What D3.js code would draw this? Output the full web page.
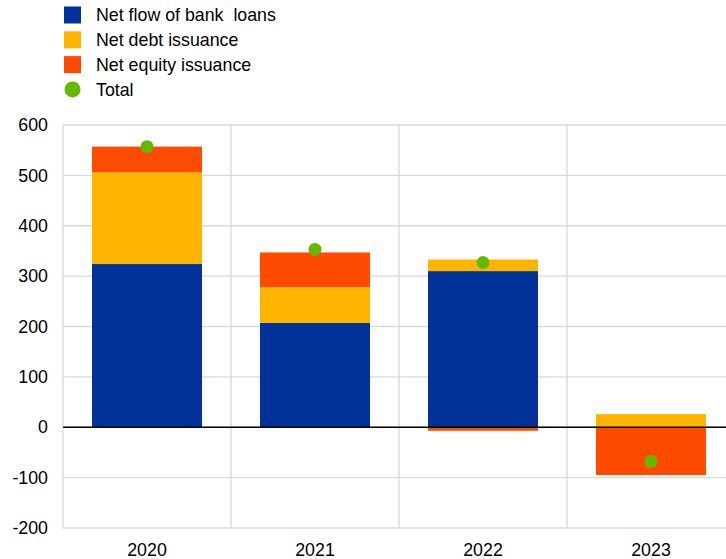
<!DOCTYPE html>
<html><head><meta charset="utf-8">
<script src="https://cdn.jsdelivr.net/npm/d3@7"></script>
<style>body{margin:0;background:#fff}svg{display:block;font-family:"Liberation Sans",Arial,sans-serif}</style>
</head><body><svg id="c" width="726" height="559"></svg>
<script>
const years = ["2020","2021","2022","2023"];
const bankLoans = [324, 207, 310, 0];
const debtIssuance = [182, 71, 23, 26];
const equityIssuance = [51, 69, -7, -95];
const totals = [557, 353, 327, -68];
const yTicks = [-200,-100,0,100,200,300,400,500,600];
const seriesNames = ["Net flow of bank  loans","Net debt issuance","Net equity issuance"];
const colors = ["#003299","#ffb400","#ff4b00"];
const dotColor = "#65b800";

(function(){
const svg = d3.select("#c");
const pLeft = 63, pRight = 735, pTop = 125, pBottom = 528;
const FS = 17.8;
const x = d3.scaleBand().domain(years).range([pLeft, pRight]).paddingInner(0.345).paddingOuter(0.1725);
const y = d3.scaleLinear().domain([-200, 600]).range([pBottom, pTop]);

const rows = years.map((yr,i)=>({year:yr, a:bankLoans[i], b:debtIssuance[i], c:equityIssuance[i]}));
const stack = d3.stack().keys(["a","b","c"]).offset(d3.stackOffsetDiverging)(rows);

// grid
const g = svg.append("g");
g.selectAll("line.h").data(yTicks).join("line")
  .attr("x1", pLeft).attr("x2", 726).attr("y1", d=>y(d)).attr("y2", d=>y(d))
  .attr("stroke", "#d9d9d9").attr("stroke-width", 1.3);
const bounds = [pLeft].concat(years.slice(1).map(d=>x(d) - x.step()*x.paddingInner()/2));
g.selectAll("line.v").data(bounds).join("line")
  .attr("x1", d=>d).attr("x2", d=>d).attr("y1", pTop).attr("y2", pBottom)
  .attr("stroke", "#d9d9d9").attr("stroke-width", 1.3);

// bars
stack.forEach((s, k) => {
  svg.append("g").selectAll("rect").data(s).join("rect")
    .attr("x", d=>x(d.data.year)).attr("width", x.bandwidth())
    .attr("y", d=>y(Math.max(d[0],d[1]))).attr("height", d=>Math.abs(y(d[0])-y(d[1])))
    .attr("fill", colors[k]);
});

// zero line
svg.append("line").attr("x1", pLeft).attr("x2", 726).attr("y1", y(0)).attr("y2", y(0))
  .attr("stroke", "#000").attr("stroke-width", 1.5);

// dots
svg.append("g").selectAll("circle").data(totals).join("circle")
  .attr("cx", (d,i)=>x(years[i]) + x.bandwidth()/2).attr("cy", d=>y(d)).attr("r", 6.5)
  .attr("fill", dotColor);

// y axis labels
const yAxis = d3.axisLeft(y).tickValues(yTicks).tickFormat(d=>String(d)).tickSize(0).tickPadding(15);
const ya = svg.append("g").attr("transform", `translate(${pLeft},0)`).call(yAxis);
ya.select(".domain").remove();
ya.selectAll("text").attr("font-size", FS).attr("fill", "#000").attr("font-family", '"Liberation Sans",Arial,sans-serif');

// x axis labels
const xAxis = d3.axisBottom(x).tickSize(0).tickPadding(15);
const xa = svg.append("g").attr("transform", `translate(0,${pBottom})`).call(xAxis);
xa.select(".domain").remove();
xa.selectAll("text").attr("font-size", FS).attr("fill", "#000").attr("font-family", '"Liberation Sans",Arial,sans-serif');

// legend
const lg = svg.append("g");
const legendItems = seriesNames.map((n,i)=>({name:n, color:colors[i], type:"rect"})).concat([{name:"Total", color:dotColor, type:"dot"}]);
legendItems.forEach((d,i)=>{
  const cy = 15 + i*24.8;
  if (d.type === "rect") lg.append("rect").attr("x", 64).attr("y", cy-8.5).attr("width", 17).attr("height", 17).attr("fill", d.color);
  else lg.append("circle").attr("cx", 72.5).attr("cy", cy).attr("r", 8).attr("fill", d.color);
  lg.append("text").attr("x", 96).attr("y", cy).attr("dy", "0.36em").attr("font-size", FS)
    .style("white-space", "pre").attr("fill", "#000").text(d.name);
});
})();
</script></body></html>
